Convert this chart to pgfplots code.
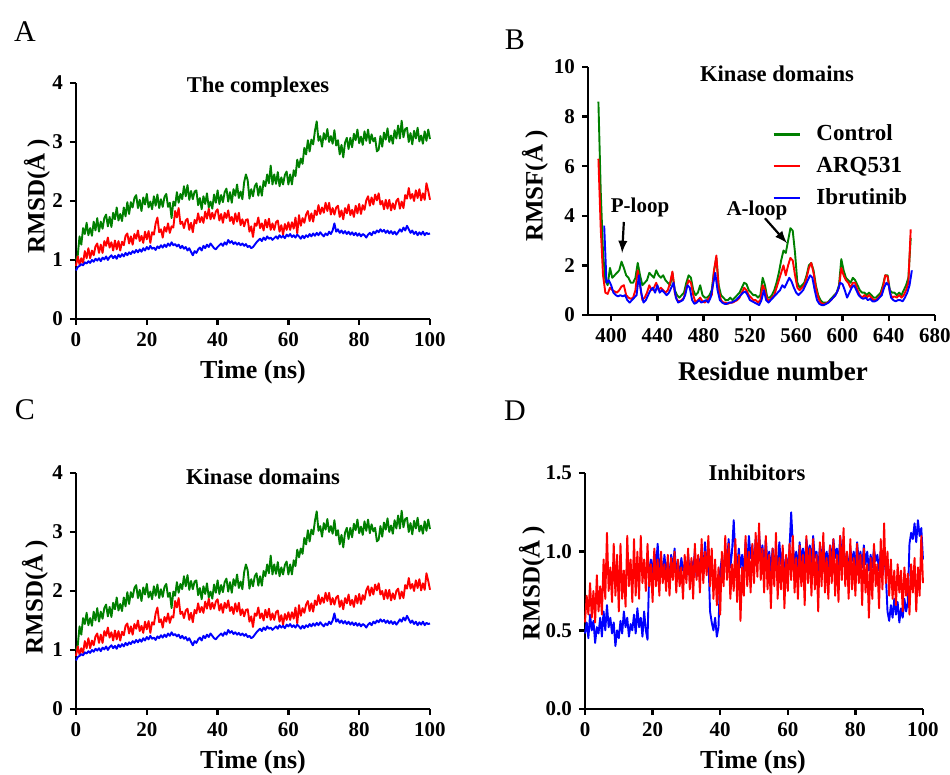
\documentclass[border=0pt]{standalone}
\usepackage{fontspec}
\setmainfont{Liberation Serif}
\usepackage{pgfplots}
\usepackage{pgfplotstable}
\pgfplotsset{compat=1.18}
\definecolor{cgreen}{RGB}{0,128,0}
\definecolor{cred}{RGB}{255,0,0}
\definecolor{cblue}{RGB}{0,0,255}

\pgfplotstableread{
t g r b
0 1.00 0.90 0.82
0.5 1.08 1.06 0.88
1 1.40 0.92 0.90
1.5 1.26 1.03 0.93
2 1.54 0.95 0.91
2.5 1.44 1.15 0.96
3 1.63 1.03 0.94
3.5 1.42 1.20 0.98
4 1.54 1.03 0.95
4.5 1.41 1.16 1.00
5 1.65 1.08 0.97
5.5 1.50 1.23 1.02
6 1.71 1.28 0.99
6.5 1.48 1.12 1.03
7 1.65 1.26 0.98
7.5 1.53 1.12 1.04
8 1.71 1.32 1.01
8.5 1.77 1.24 1.06
9 1.57 1.38 1.00
9.5 1.73 1.21 1.05
10 1.56 1.30 1.08
10.5 1.80 1.16 1.03
11 1.69 1.33 1.07
11.5 1.89 1.18 1.02
12 1.67 1.32 1.09
12.5 1.78 1.16 1.05
13 1.66 1.31 1.10
13.5 1.89 1.25 1.06
14 1.74 1.41 1.12
14.5 1.98 1.45 1.08
15 1.78 1.28 1.13
15.5 1.98 1.40 1.10
16 1.89 1.26 1.15
16.5 2.05 1.44 1.12
17 2.10 1.36 1.17
17.5 1.88 1.50 1.13
18 2.02 1.32 1.18
18.5 1.83 1.41 1.14
19 2.06 1.29 1.20
19.5 1.94 1.48 1.16
20 2.12 1.35 1.22
20.5 1.89 1.49 1.18
21 1.99 1.29 1.24
21.5 1.86 1.47 1.19
22 2.08 1.43 1.21
22.5 1.92 1.62 1.17
23 2.11 1.72 1.23
23.5 1.88 1.47 1.20
24 2.03 1.52 1.25
24.5 1.90 1.38 1.21
25 2.07 1.56 1.26
25.5 2.12 1.48 1.22
26 1.90 1.62 1.28
26.5 1.97 1.46 1.24
27 1.71 1.57 1.30
27.5 1.99 1.55 1.25
28 1.92 1.83 1.27
28.5 2.15 1.72 1.23
29 1.97 1.88 1.26
29.5 2.12 1.61 1.20
30 2.03 1.65 1.24
30.5 2.25 1.54 1.19
31 2.08 1.67 1.22
31.5 2.27 1.70 1.16
32 2.02 1.51 1.20
32.5 2.17 1.63 1.14
33 2.03 1.47 1.08
33.5 2.16 1.68 1.15
34 2.18 1.62 1.12
34.5 1.93 1.79 1.18
35 2.05 1.64 1.21
35.5 1.86 1.73 1.16
36 2.08 1.63 1.24
36.5 1.95 1.82 1.20
37 2.13 1.70 1.26
37.5 1.89 1.87 1.22
38 1.99 1.69 1.28
38.5 1.87 1.80 1.24
39 2.11 1.70 1.20
39.5 1.97 1.82 1.18
40 2.18 1.86 1.22
40.5 1.95 1.67 1.25
41 2.10 1.78 1.28
41.5 1.98 1.63 1.24
42 2.15 1.80 1.30
42.5 2.21 1.71 1.26
43 1.99 1.84 1.34
43.5 2.15 1.66 1.29
44 1.97 1.73 1.32
44.5 2.20 1.61 1.27
45 2.09 1.79 1.30
45.5 2.28 1.65 1.26
46 2.05 1.80 1.29
46.5 2.16 1.59 1.25
47 2.03 1.69 1.28
47.5 2.32 1.57 1.24
48 2.45 1.68 1.27
48.5 2.35 1.69 1.22
49 2.04 1.48 1.24
49.5 2.20 1.57 1.20
50 2.08 1.39 1.22
50.5 2.25 1.62 1.26
51 2.30 1.58 1.30
51.5 2.09 1.72 1.33
52 2.25 1.54 1.36
52.5 2.09 1.62 1.32
53 2.34 1.50 1.38
53.5 2.25 1.68 1.34
54 2.45 1.55 1.40
54.5 2.30 1.70 1.36
55 2.60 1.51 1.38
55.5 2.28 1.62 1.34
56 2.45 1.51 1.37
56.5 2.29 1.64 1.40
57 2.49 1.67 1.36
57.5 2.25 1.48 1.42
58 2.40 1.59 1.38
58.5 2.28 1.43 1.41
59 2.44 1.61 1.37
59.5 2.50 1.51 1.43
60 2.28 1.64 1.40
60.5 2.45 1.51 1.44
61 2.28 1.64 1.39
61.5 2.52 1.53 1.42
62 2.42 1.72 1.38
62.5 2.70 1.45 1.43
63 2.57 1.76 1.40
63.5 2.72 1.58 1.36
64 2.63 1.71 1.41
64.5 2.90 1.63 1.37
65 2.79 1.77 1.42
65.5 3.03 1.83 1.39
66 2.84 1.66 1.44
66.5 3.04 1.79 1.40
67 2.96 1.65 1.45
67.5 3.19 1.84 1.41
68 3.35 1.76 1.46
68.5 3.02 1.93 1.42
69 3.10 1.78 1.47
69.5 2.92 1.89 1.43
70 3.15 1.80 1.40
70.5 3.04 1.97 1.45
71 3.22 1.83 1.42
71.5 3.00 1.97 1.48
72 3.10 1.77 1.44
72.5 2.97 1.88 1.50
73 3.20 1.77 1.62
73.5 2.94 1.89 1.48
74 3.03 1.92 1.52
74.5 2.79 1.73 1.46
75 2.95 1.84 1.50
75.5 2.74 1.69 1.45
76 2.99 1.88 1.49
76.5 3.07 1.79 1.44
77 2.88 1.94 1.48
77.5 3.07 1.76 1.43
78 2.91 1.85 1.47
78.5 3.14 1.73 1.42
79 3.03 1.92 1.46
79.5 3.21 1.79 1.41
80 2.98 1.95 1.45
80.5 3.09 1.78 1.40
81 2.95 1.93 1.44
81.5 3.18 1.85 1.42
82 3.02 2.01 1.38
82.5 3.21 2.08 1.43
83 2.98 1.92 1.46
83.5 3.13 2.06 1.42
84 3.01 1.94 1.48
84.5 3.07 2.11 1.45
85 2.84 2.01 1.50
85.5 2.87 2.13 1.47
86 3.10 1.94 1.52
86.5 2.92 2.00 1.48
87 3.16 1.86 1.51
87.5 3.04 2.02 1.46
88 3.23 1.87 1.50
88.5 3.00 2.02 1.45
89 3.11 1.84 1.49
89.5 2.97 1.96 1.44
90 3.20 1.86 1.48
90.5 3.06 2.00 1.43
91 3.28 2.04 1.47
91.5 3.06 1.87 1.52
92 3.36 1.99 1.48
92.5 3.08 1.88 1.55
93 3.22 2.10 1.50
93.5 3.24 2.04 1.58
94 3.00 2.22 1.52
94.5 3.15 2.04 1.46
95 2.96 2.12 1.50
95.5 3.19 2.00 1.44
96 3.06 2.18 1.48
96.5 3.24 2.05 1.42
97 3.01 2.20 1.47
97.5 3.11 2.01 1.43
98 2.97 2.13 1.48
98.5 3.18 2.02 1.42
99 3.02 2.30 1.46
99.5 3.21 2.17 1.44
100 3.05 2.02 1.45
}\tabA

\pgfplotstableread{
t b r
0 0.48 0.55
0.5 0.55 0.72
1 0.45 0.60
1.5 0.60 0.80
2 0.50 0.58
2.5 0.56 0.75
3 0.42 0.55
3.5 0.52 0.85
4 0.48 0.62
4.5 0.58 0.78
5 0.46 0.60
5.5 0.62 0.95
6 0.50 0.70
6.5 0.66 1.12
7 0.52 0.75
7.5 0.58 0.90
8 0.48 0.68
8.5 0.55 1.05
9 0.40 0.72
9.5 0.50 0.98
10 0.45 0.62
10.5 0.56 1.05
11 0.48 0.70
11.5 0.62 0.88
12 0.52 0.65
12.5 0.58 1.10
13 0.46 0.78
13.5 0.54 0.95
14 0.50 0.68
14.5 0.60 1.08
15 0.48 0.72
15.5 0.64 1.00
16 0.52 0.70
16.5 0.58 1.10
17 0.46 0.80
17.5 0.62 0.95
18 0.50 0.75
18.5 0.44 1.05
19 0.88 0.78
19.5 0.95 0.92
20 0.86 0.68
20.5 1.00 1.02
21 0.90 0.78
21.5 1.05 0.95
22 0.88 0.72
22.5 0.96 1.00
23 0.84 0.80
23.5 0.98 0.92
24 0.86 0.75
24.5 0.94 0.98
25 0.82 0.72
25.5 0.98 0.96
26 0.88 0.82
26.5 1.02 1.00
27 0.86 0.74
27.5 0.94 0.95
28 0.82 0.78
28.5 0.96 0.90
29 0.88 0.70
29.5 0.92 0.98
30 0.84 0.80
30.5 0.98 1.02
31 0.86 0.76
31.5 0.94 0.96
32 0.88 0.70
32.5 1.00 1.05
33 0.84 0.82
33.5 0.96 0.98
34 0.90 0.74
34.5 1.02 1.08
35 0.86 0.80
35.5 1.06 1.00
36 0.92 0.85
36.5 0.98 1.10
37 0.62 0.78
37.5 0.55 1.02
38 0.50 0.70
38.5 0.58 0.95
39 0.46 0.66
39.5 0.52 0.90
40 0.88 0.60
40.5 0.96 1.00
41 0.86 0.78
41.5 1.02 1.10
42 0.92 0.82
42.5 1.08 1.05
43 0.90 0.70
43.5 1.00 0.92
44 1.20 0.75
44.5 0.96 1.08
45 0.88 0.68
45.5 1.02 0.98
46 0.90 0.56
46.5 0.98 0.90
47 0.86 0.72
47.5 1.06 1.10
48 0.92 0.78
48.5 1.10 1.00
49 0.96 0.74
49.5 1.04 1.05
50 0.90 0.80
50.5 1.08 1.12
51 0.94 0.84
51.5 1.12 1.18
52 0.96 0.82
52.5 1.04 1.02
53 0.90 0.74
53.5 1.08 1.10
54 0.92 0.76
54.5 1.00 0.98
55 0.88 0.64
55.5 1.02 1.02
56 0.94 0.78
56.5 0.98 1.12
57 0.90 0.70
57.5 1.06 0.96
58 0.92 0.76
58.5 1.00 1.04
59 0.86 0.64
59.5 0.96 0.98
60 0.90 0.75
60.5 1.02 1.05
61 1.25 0.82
61.5 1.04 1.10
62 0.92 0.74
62.5 1.00 0.96
63 0.88 0.70
63.5 1.06 1.04
64 0.94 0.78
64.5 1.02 0.98
65 0.90 0.66
65.5 1.08 1.10
66 0.96 0.80
66.5 1.04 1.02
67 0.92 0.72
67.5 1.10 1.08
68 0.96 0.76
68.5 1.00 0.98
69 0.88 0.62
69.5 1.04 1.06
70 0.94 0.78
70.5 1.06 1.12
71 0.92 0.74
71.5 1.00 0.96
72 0.90 0.70
72.5 1.04 1.04
73 0.94 0.80
73.5 1.08 1.08
74 0.96 0.72
74.5 1.02 0.98
75 0.92 0.68
75.5 1.10 1.10
76 0.96 0.82
76.5 1.04 1.15
77 0.92 0.78
77.5 0.98 1.00
78 0.88 0.70
78.5 1.02 1.08
79 0.94 0.76
79.5 1.00 0.96
80 0.90 0.72
80.5 1.06 1.05
81 0.94 0.80
81.5 1.00 0.98
82 0.90 0.66
82.5 1.04 1.02
83 0.92 0.74
83.5 1.00 0.92
84 0.88 0.58
84.5 0.98 0.96
85 0.90 0.70
85.5 1.02 1.05
86 0.94 0.78
86.5 0.98 0.92
87 0.88 0.64
87.5 1.00 1.08
88 0.92 0.76
88.5 0.98 1.18
89 0.86 0.80
89.5 0.62 1.00
90 0.56 0.72
90.5 0.66 0.95
91 0.58 0.70
91.5 0.70 0.88
92 0.60 0.66
92.5 0.68 0.92
93 0.55 0.74
93.5 0.64 0.88
94 0.58 0.62
94.5 0.70 0.90
95 0.62 0.72
95.5 0.68 0.86
96 1.05 0.60
96.5 1.12 0.92
97 1.08 0.74
97.5 1.18 0.96
98 1.06 0.62
98.5 1.20 0.90
99 1.10 0.72
99.5 1.15 1.10
100 0.95 0.80
}\tabD

\pgfplotstableread{
res g r
389 8.6 6.3
391 5.0 3.5
393 2.5 1.6
395 1.4 0.9
397 1.2 0.85
399 1.9 1.1
401 1.5 1.0
403 1.6 0.95
405 1.7 0.9
407 1.8 1.0
409 2.15 1.15
411 1.9 1.2
413 1.6 0.8
415 1.5 0.7
417 1.3 0.65
419 1.3 0.7
421 1.5 1.0
423 2.1 1.8
425 1.6 1.2
427 1.2 0.6
429 1.3 0.7
431 1.4 0.9
433 1.7 1.2
435 1.6 1.0
437 1.5 1.1
439 1.8 1.3
441 1.6 1.0
443 1.5 1.1
445 1.6 1.0
447 1.4 0.9
449 1.3 1.0
451 1.2 1.3
453 1.7 1.75
455 1.0 0.9
457 0.8 0.6
459 0.7 0.55
461 0.8 0.6
463 0.9 0.7
465 1.3 1.1
467 1.6 1.4
469 1.5 1.3
471 1.0 0.8
473 0.8 0.5
475 0.9 0.6
477 1.2 0.7
479 0.8 0.55
481 0.7 0.5
483 0.7 0.6
485 0.8 0.7
487 1.0 0.8
489 1.8 1.8
491 2.3 2.4
493 1.2 1.0
495 0.8 0.6
497 0.7 0.5
499 0.6 0.5
501 0.6 0.45
503 0.7 0.5
505 0.6 0.5
507 0.7 0.55
509 0.8 0.6
511 0.9 0.7
513 1.1 0.9
515 1.3 1.1
517 1.25 1.0
519 1.0 0.8
521 0.9 0.7
523 0.8 0.6
525 0.8 0.6
527 0.7 0.5
529 0.8 0.6
531 1.5 1.2
533 1.2 1.0
535 0.7 0.6
537 0.7 0.6
539 0.8 0.7
541 1.0 0.8
543 1.3 1.1
545 1.7 1.4
547 2.2 1.7
549 2.6 2.0
551 2.5 1.6
553 3.0 2.0
555 3.5 2.3
557 3.4 2.2
559 2.5 1.6
561 1.3 1.1
563 1.1 1.0
565 1.2 1.1
567 1.3 1.2
569 1.6 1.5
571 2.0 1.9
573 2.1 2.1
575 1.8 1.7
577 1.2 1.1
579 0.8 0.7
581 0.6 0.5
583 0.5 0.45
585 0.5 0.45
587 0.5 0.5
589 0.6 0.55
591 0.7 0.65
593 0.8 0.75
595 0.9 0.9
597 1.2 1.1
599 2.25 1.9
601 1.8 1.6
603 1.5 1.4
605 1.4 1.3
607 1.3 1.1
609 1.5 1.3
611 1.4 1.3
613 1.2 1.0
615 1.0 0.8
617 0.9 0.7
619 0.9 0.8
621 0.8 0.7
623 0.9 0.8
625 0.8 0.7
627 0.7 0.6
629 0.7 0.6
631 0.8 0.7
633 0.9 0.8
635 1.2 1.1
637 1.6 1.6
639 1.6 1.55
641 1.0 0.9
643 0.9 0.7
645 0.9 0.75
647 0.8 0.7
649 0.9 0.8
651 0.8 0.7
653 1.0 0.8
655 1.2 1.0
657 1.5 1.3
659 3.1 3.45
}\tabBgr

\pgfplotstableread{
res b
394 3.6
396 1.3
398 1.4
400 1.2
402 0.9
404 0.8
406 0.75
408 0.8
410 0.75
412 0.8
414 0.6
416 0.5
418 0.6
420 0.7
422 0.8
424 1.6
426 0.9
428 0.5
430 0.6
432 0.8
434 1.0
436 1.1
438 0.9
440 1.2
442 0.9
444 1.0
446 0.9
448 0.8
450 0.9
452 1.1
454 1.3
456 0.7
458 0.5
460 0.55
462 0.6
464 0.8
466 1.2
468 1.1
470 0.6
472 0.45
474 0.5
476 0.6
478 0.5
480 0.55
482 0.6
484 0.5
486 0.7
488 1.2
490 1.7
492 1.0
494 0.6
496 0.5
498 0.45
500 0.45
502 0.5
504 0.5
506 0.55
508 0.6
510 0.7
512 0.8
514 0.9
516 0.95
518 0.8
520 0.6
522 0.55
524 0.5
526 0.45
528 0.4
530 0.6
532 1.0
534 0.6
536 0.5
538 0.6
540 0.7
542 0.8
544 0.9
546 1.0
548 1.2
550 1.1
552 1.3
554 1.5
556 1.35
558 1.1
560 0.9
562 0.8
564 0.9
566 1.0
568 1.2
570 1.4
572 1.6
574 1.5
576 1.0
578 0.6
580 0.45
582 0.4
584 0.4
586 0.45
588 0.5
590 0.6
592 0.7
594 0.8
596 1.0
598 1.3
600 1.25
602 1.0
604 0.7
606 0.9
608 1.1
610 1.2
612 1.0
614 0.8
616 0.7
618 0.65
620 0.7
622 0.6
624 0.65
626 0.55
628 0.55
630 0.6
632 0.7
634 0.8
636 1.1
638 1.3
640 1.2
642 0.7
644 0.6
646 0.55
648 0.6
650 0.6
652 0.55
654 0.7
656 0.9
658 1.2
660 1.8
}\tabBb

\pgfplotsset{
  panel/.style={
    scale only axis,
    axis x line=bottom, axis y line=left,
    axis line style={line width=1.2pt,-},
    tick align=outside,
    major tick length=3pt,
    every tick/.style={line width=1.2pt,black},
    tick label style={font=\fontsize{10.5}{12}\selectfont\bfseries},
    /pgf/number format/assume math mode=true,
    xlabel=\empty, ylabel=\empty,
    clip=false,
  },
  dl/.style={line width=0.95pt, line join=round},
}

\begin{document}
\begin{tikzpicture}[x=1pt,y=1pt]
\path[use as bounding box] (0,0) rectangle (475,387.5);

% ---------- A ----------
\begin{axis}[panel, at={(38pt,228pt)}, anchor=south west,
  width=177pt, height=118pt,
  xmin=0, xmax=100, ymin=0, ymax=4,
  xtick={0,20,...,100}, ytick={0,1,2,3,4}]
\addplot[dl, cgreen] table[x=t,y=g]{\tabA};
\addplot[dl, cred] table[x=t,y=r]{\tabA};
\addplot[dl, cblue] table[x=t,y=b]{\tabA};
\end{axis}

% ---------- B ----------
\begin{axis}[panel, at={(294pt,230pt)}, anchor=south west,
  width=173.5pt, height=124pt,
  xmin=380, xmax=680, ymin=0, ymax=10,
  xtick={400,440,...,680}, ytick={0,2,...,10},
  legend style={draw=none, fill=none, at={(rel axis cs:0.513,0.80)}, anchor=north west,
    font=\fontsize{11.5}{13}\selectfont\bfseries, row sep=2.5pt,
    /tikz/every even column/.append style={column sep=0pt}},
  legend cell align=left,
  legend image code/.code={\draw[#1,line width=1.1pt] (0pt,0pt) -- (13pt,0pt); \path (19pt,0pt);}]
\addplot[dl, cgreen] table[x=res,y=g]{\tabBgr};
\addlegendentry{Control}
\addplot[dl, cred] table[x=res,y=r]{\tabBgr};
\addlegendentry{ARQ531}
\addplot[dl, cblue] table[x=res,y=b]{\tabBb};
\addlegendentry{Ibrutinib}
\draw[-latex, line width=1.1pt] (axis cs:411,3.75) -- (axis cs:409.5,2.5);
\draw[-latex, line width=1.1pt] (axis cs:533,3.9) -- (axis cs:552,2.9);
\node[font=\fontsize{10.5}{12}\selectfont\bfseries] at (axis cs:425,4.35) {P-loop};
\node[font=\fontsize{10.5}{12}\selectfont\bfseries] at (axis cs:526,4.23) {A-loop};
\end{axis}

% ---------- C ----------
\begin{axis}[panel, at={(38pt,33pt)}, anchor=south west,
  width=177pt, height=118pt,
  xmin=0, xmax=100, ymin=0, ymax=4,
  xtick={0,20,...,100}, ytick={0,1,2,3,4}]
\addplot[dl, cgreen] table[x=t,y=g]{\tabA};
\addplot[dl, cred] table[x=t,y=r]{\tabA};
\addplot[dl, cblue] table[x=t,y=b]{\tabA};
\end{axis}

% ---------- D ----------
\begin{axis}[panel, at={(292.5pt,33pt)}, anchor=south west,
  width=169pt, height=118pt,
  xmin=0, xmax=100, ymin=0, ymax=1.5,
  xtick={0,20,...,100}, ytick={0,0.5,1,1.5},
  yticklabel style={/pgf/number format/.cd, fixed, fixed zerofill, precision=1}]
\addplot[dl, cblue] table[x=t,y=b]{\tabD};
\addplot[dl, cred] table[x=t,y=r]{\tabD};
\end{axis}

% ---------- texts ----------
\tikzset{ttl/.style={font=\fontsize{11.3}{13}\selectfont\bfseries},
  xl/.style={font=\fontsize{13}{15}\selectfont\bfseries},
  yl/.style={font=\fontsize{12.5}{14}\selectfont\bfseries, rotate=90},
  pl/.style={font=\fontsize{15}{17}\selectfont}}
\node[pl] at (12.5,371.5) {A};
\node[pl] at (257.5,367.5) {B};
\node[pl] at (12.5,182.5) {C};
\node[pl] at (257.5,182) {D};
\node[ttl] at (129,344) {The complexes};
\node[ttl] at (388.5,350.5) {Kinase domains};
\node[ttl] at (131.5,149) {Kinase domains};
\node[ttl] at (378.5,151) {Inhibitors};
\node[xl] at (126.5,201.5) {Time (ns)};
\node[xl, font=\fontsize{13.5}{15}\selectfont\bfseries] at (386.5,202) {Residue number};
\node[xl] at (126.5,6.5) {Time (ns)};
\node[xl] at (376.5,6.5) {Time (ns)};
\node[yl] at (18.5,289.5) {RMSD(Å\ )};
\node[yl] at (267.5,294.5) {RMSF(Å\ )};
\node[yl] at (17.5,89) {RMSD(Å\ )};
\node[yl] at (266,96) {RMSD(Å\ )};
\end{tikzpicture}
\end{document}
